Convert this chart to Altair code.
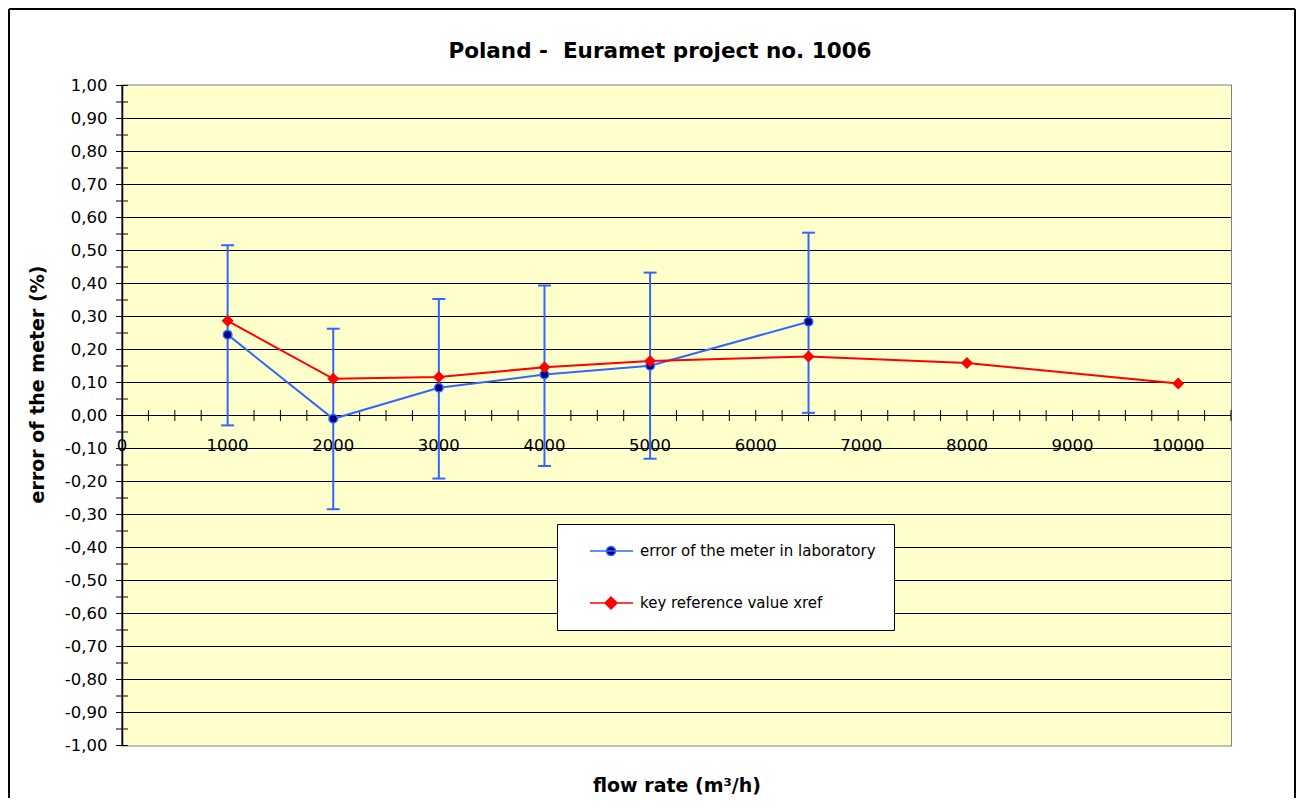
import altair as alt
import pandas as pd

# ---- data ----
flow_lab = [1000, 2000, 3000, 4000, 5000, 6500]
err_lab = [0.245, -0.010, 0.084, 0.124, 0.151, 0.284]
unc_low = [-0.030, -0.284, -0.191, -0.153, -0.131, 0.008]
unc_high = [0.516, 0.263, 0.353, 0.394, 0.433, 0.554]

flow_ref = [1000, 2000, 3000, 4000, 5000, 6500, 8000, 10000]
xref = [0.287, 0.111, 0.117, 0.146, 0.165, 0.179, 0.159, 0.097]

series_names = ["error of the meter in laboratory", "key reference value xref"]

# axis ticks / labels
x_label_values = [0, 1000, 2000, 3000, 4000, 5000, 6000, 7000, 8000, 9000, 10000]
x_label_text = ["0", "1000", "2000", "3000", "4000", "5000", "6000", "7000", "8000", "9000", "10000"]
x_minor_ticks = list(range(0, 10501, 250))
y_major = [round(-1 + 0.1 * i, 1) for i in range(21)]
y_minor_ticks = [round(-1 + 0.05 * i, 2) for i in range(41)]
y_grid = y_major[1:-1]

FONT = "DejaVu Sans"
BLUE = "#3366FF"
NAVY = "#000080"
RED = "#FF0000"
YELLOW = "#FFFFCC"
W, H = 1109, 660

lab_df = pd.DataFrame({"flow": flow_lab, "err": err_lab, "lo": unc_low, "hi": unc_high})
ref_df = pd.DataFrame({"flow": flow_ref, "xref": xref})
xlab_df = pd.DataFrame({"v": x_label_values, "t": x_label_text})
xtick_df = pd.DataFrame({"v": x_minor_ticks})
ytick_df = pd.DataFrame({"v": y_minor_ticks})
grid_df = pd.DataFrame({"v": y_grid})
one = pd.DataFrame({"k": [0]})

x_scale = alt.Scale(domain=[0, 10500], nice=False, zero=False)
y_scale = alt.Scale(domain=[-1, 1], nice=False, zero=False)

x_axis = alt.Axis(
    labels=False, ticks=False, domain=False, grid=False,
    title="flow rate (m\u00b3/h)", titleFont=FONT, titleFontSize=19,
    titleFontWeight="bold", titleColor="black", titlePadding=31,
)

y_axis = alt.Axis(
    values=y_major, format=".2f",
    domain=True, domainColor="black", domainWidth=1.5,
    grid=False, ticks=False, zindex=1,
    labelFont=FONT, labelFontSize=16.5, labelColor="black", labelPadding=15,
    labelFlush=False, labelOverlap=False,
    title="error of the meter (%)", titleFont=FONT, titleFontSize=19,
    titleFontWeight="bold", titleColor="black",
    titleX=-75, titleY=298.5, titleAngle=270, titleBaseline="bottom",
)


def X(field):
    return alt.X(field, type="quantitative", scale=x_scale, axis=x_axis)


def Y(field):
    return alt.Y(field, type="quantitative", scale=y_scale, axis=y_axis)


def X0(v):
    return alt.XDatum(v, scale=x_scale, axis=x_axis)


def Y0(v):
    return alt.YDatum(v, scale=y_scale, axis=y_axis)


# plot-area background and gridlines
plot_bg = alt.Chart(one).mark_rect(color=YELLOW, opacity=1).encode(
    x=X0(0), x2=alt.X2Datum(10500), y=Y0(-1), y2=alt.Y2Datum(1)
)
grid_layer = alt.Chart(grid_df).mark_rule(color="black", strokeWidth=1).encode(y=Y("v"))

zero_rule = alt.Chart(one).mark_rule(color="black", strokeWidth=1).encode(y=Y0(0))
x_ticks_layer = alt.Chart(xtick_df).mark_tick(
    orient="vertical", color="black", size=11, thickness=1, opacity=1
).encode(x=X("v"), y=Y0(0))
y_ticks_layer = alt.Chart(ytick_df).mark_tick(
    orient="horizontal", color="black", size=12, thickness=1, opacity=1
).encode(y=Y("v"), x=X0(0))
x_labels_layer = alt.Chart(xlab_df).mark_text(
    font=FONT, fontSize=16.5, color="black", align="center", baseline="middle"
).encode(x=X("v"), y=Y0(-0.092), text="t:N")

err_rules = alt.Chart(lab_df).mark_rule(color=BLUE, strokeWidth=2).encode(
    x=X("flow"), y=Y("lo"), y2="hi:Q"
)
caps = alt.Chart(lab_df).transform_fold(["lo", "hi"], as_=["end", "val"]).mark_tick(
    orient="horizontal", color=BLUE, size=13, thickness=2, opacity=1
).encode(x=X("flow"), y=Y("val"))

lab_line = alt.Chart(lab_df).mark_line(color=BLUE, strokeWidth=2).encode(x=X("flow"), y=Y("err"))
lab_points = alt.Chart(lab_df).mark_point(
    shape="circle", filled=True, fill=NAVY, stroke=BLUE, strokeWidth=1.5, size=72, opacity=1
).encode(x=X("flow"), y=Y("err"))

ref_line = alt.Chart(ref_df).mark_line(color=RED, strokeWidth=2).encode(x=X("flow"), y=Y("xref"))
ref_points = alt.Chart(ref_df).mark_point(
    shape="diamond", filled=True, color=RED, size=144, opacity=1
).encode(x=X("flow"), y=Y("xref"))

# legend symbols: line + marker (custom paths, unit = 8 px)
a, b, c, r, d = 0.75, 6.125, 3.375, 0.5625, 0.75
path_lab = f"M{a},0L{b},0M{c-r},0A{r},{r} 0 1,0 {c+r},0A{r},{r} 0 1,0 {c-r},0Z"
path_ref = f"M{a},0L{b},0M{c-d},0L{c},{-d}L{c+d},0L{c},{d}Z"

leg = alt.Legend(
    orient="none", legendX=435, legendY=438.5, title=None,
    fillColor="white", strokeColor="black", padding=18, cornerRadius=0,
    labelFont=FONT, labelFontSize=15, labelColor="black", labelOffset=47,
    labelLimit=0, rowPadding=35, symbolSize=256, symbolStrokeWidth=1.5,
    symbolOpacity=1, labelExpr="datum.label + '\u00a0\u00a0\u00a0'",
)
legend_layer = alt.Chart(pd.DataFrame({"series": series_names})).transform_filter("false").mark_point(
    filled=True, size=256, strokeWidth=1.5, opacity=1
).encode(
    shape=alt.Shape("series:N", scale=alt.Scale(domain=series_names, range=[path_lab, path_ref]), legend=leg),
    fill=alt.Fill("series:N", scale=alt.Scale(domain=series_names, range=[NAVY, RED]), legend=leg),
    stroke=alt.Stroke("series:N", scale=alt.Scale(domain=series_names, range=[BLUE, RED]), legend=leg),
)

# outer picture frame (decoration), drawn as three rules
frame_left = alt.Chart(one).mark_rule(color="black", strokeWidth=2).encode(
    x=alt.value(-113), y=alt.value(-76.5), y2=alt.value(H + 140)
)
frame_top = alt.Chart(one).mark_rule(color="black", strokeWidth=2).encode(
    x=alt.value(-113), x2=alt.value(W + 64), y=alt.value(-76.5)
)
frame_right = alt.Chart(one).mark_rule(color="black", strokeWidth=2).encode(
    x=alt.value(W + 64), y=alt.value(-76.5), y2=alt.value(H + 140)
)

chart = alt.layer(
    plot_bg, grid_layer, zero_rule, x_ticks_layer, y_ticks_layer, x_labels_layer,
    err_rules, caps, lab_line, lab_points, ref_line, ref_points, legend_layer,
    frame_left, frame_top, frame_right,
).properties(
    width=W, height=H,
    autosize=alt.AutoSizeParams(type="none"),
    padding={"left": 114, "top": 77.5, "right": 67, "bottom": 52.5},
    title=alt.Title(
        "Poland -\u00a0 Euramet project no. 1006", font=FONT, fontSize=21.5,
        fontWeight="bold", color="black", anchor="middle", frame="group",
        offset=0, dy=71.5, baseline="alphabetic", dx=-16.5,
    ),
    background="white",
).configure(
    locale={"number": {"decimal": ",", "thousands": ".", "grouping": [3],
                       "currency": ["", ""], "minus": "-"}}
).configure_view(
    fill=YELLOW, stroke="#808080", strokeWidth=2
)

chart.save("out.html", embed_options={"renderer": "svg", "actions": False})
